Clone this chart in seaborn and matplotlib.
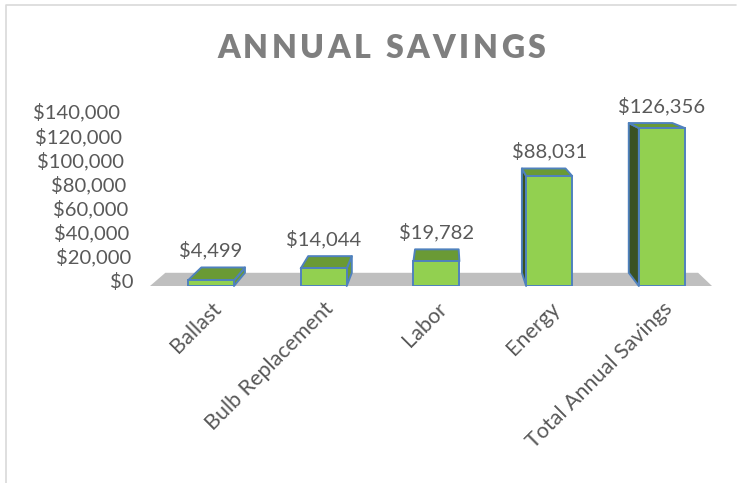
import matplotlib
matplotlib.use("Agg")
import matplotlib.pyplot as plt
import matplotlib.transforms as mtransforms
import seaborn as sns
import pandas as pd
import numpy as np
from matplotlib.patches import Polygon
from matplotlib.lines import Line2D

# ---- data ----
categories = ["Ballast", "Bulb Replacement", "Labor", "Energy", "Total Annual Savings"]
savings = [4499, 14044, 19782, 88031, 126356]
y_ticks = [0, 20000, 40000, 60000, 80000, 100000, 120000, 140000]
y_tick_labels = ["$0", "$20,000", "$40,000", "$60,000", "$80,000", "$100,000", "$120,000", "$140,000"]
title = "ANNUAL SAVINGS"

# ---- style ----
FRONT = "#92D050"
TOP = "#6A9A35"
SIDE_R = "#6A9A35"
SIDE_L = "#3A5222"
EDGE = "#4F81BD"
FLOOR = "#BFBFBF"
TXT = "#595959"
TITLE_C = "#7F7F7F"
LBL = 14.6

sns.set_theme(style="white")
plt.rcParams["font.family"] = ["Lato", "DejaVu Sans"]

W, H = 742, 483
fig = plt.figure(figsize=(W / 100, H / 100), dpi=100)
fig.patch.set_facecolor("white")

ax_left, ax_right, ax_bot, ax_top = 150, 712, 286, 111  # pixel positions (from top)
ax = fig.add_axes([ax_left / W, 1 - ax_bot / H, (ax_right - ax_left) / W, (ax_bot - ax_top) / H])
ax.set_facecolor("none")

df = pd.DataFrame({"category": categories, "savings": savings})
sns.barplot(data=df, x="category", y="savings", ax=ax, color=FRONT, saturation=1,
            width=0.408, edgecolor=EDGE, linewidth=1.4, zorder=4)

ax.set_xlim(-0.541, 4.445)
ax.set_ylim(0, 140000)
for s in ax.spines.values():
    s.set_visible(False)
ax.set_xlabel("")
ax.set_ylabel("")
ax.set_yticks([])
ax.tick_params(axis="x", length=0, pad=9, labelsize=15.5, colors=TXT)
ax.set_xticks(range(len(categories)))
ax.set_xticklabels(categories, rotation=45, ha="right", va="top", rotation_mode="anchor")

# back-wall value axis (twin) for the tick labels
ax2 = ax.twinx()
ax2.set_facecolor("none")
ax2.yaxis.tick_left()
zero_px = 280.0
scale = 140000 / (zero_px - ax_top)
ax2.set_ylim(-(ax_bot - zero_px) * scale, 140000)
ax2.set_yticks(y_ticks)
ax2.set_yticklabels(y_tick_labels)
ax2.tick_params(axis="y", length=0, pad=12, labelsize=LBL, colors=TXT)
for s in ax2.spines.values():
    s.set_visible(False)
ax2.grid(False)
# perspective slant of the back-wall labels
for v, lab in zip(y_ticks, ax2.get_yticklabels()):
    shift = -13.0 * v / 140000 / 100.0
    lab.set_transform(lab.get_transform() +
                      mtransforms.ScaledTranslation(shift, 0, fig.dpi_scale_trans))

# ---- pseudo 3D perspective ----
V = np.array([445.0, H - 32.0])  # vanishing point in display coords
K = 0.052
to_disp = ax.transData.transform
to_data = ax.transData.inverted().transform

def back(p):
    return p + K * (V - p)

def poly(pts_disp, color, z):
    pts = to_data(np.array(pts_disp))
    ax.add_patch(Polygon(pts, closed=True, facecolor=color, edgecolor=EDGE,
                         linewidth=1.4, zorder=z, clip_on=False, joinstyle="round"))

# floor
fl = to_disp(np.array([[ax.get_xlim()[0], 0], [ax.get_xlim()[1], 0]]))
fl_pts = [fl[0], fl[1], back(fl[1]), back(fl[0])]
ax.add_patch(Polygon(to_data(np.array(fl_pts)), closed=True, facecolor=FLOOR,
                     edgecolor="none", zorder=1, clip_on=False))

for bar, val in zip(ax.patches[:len(savings)], savings):
    x0 = bar.get_x()
    x1 = x0 + bar.get_width()
    h = bar.get_height()
    bl, br, tr, tl = to_disp(np.array([[x0, 0], [x1, 0], [x1, h], [x0, h]]))
    # top face
    poly([tl, tr, back(tr), back(tl)], TOP, 3)
    # side face
    if V[0] > br[0]:
        poly([br, tr, back(tr), back(br)], SIDE_R, 2)
    elif V[0] < bl[0]:
        poly([bl, tl, back(tl), back(bl)], SIDE_L, 2)
    # value label
    top_back_y = back(tl)[1]
    cx = (tl[0] + tr[0]) / 2
    lx, ly = to_data(np.array([[cx, top_back_y + 17]]))[0]
    ax.text(lx, ly, f"${val:,}", ha="center", va="center", fontsize=LBL, color=TXT,
            zorder=6, clip_on=False)

# ---- title with letter spacing ----
fig.canvas.draw()
renderer = fig.canvas.get_renderer()
tsize = 23
widths = []
for ch in title:
    if ch == " ":
        widths.append(None)
        continue
    t = fig.text(0, 0, ch, fontsize=tsize, fontweight="heavy")
    widths.append(t.get_window_extent(renderer).width)
    t.remove()
space_w = tsize * 100 / 72 * 0.26
target_w = 328
n = len(title)
glyph_total = sum(w for w in widths if w is not None) + space_w
track = (target_w - glyph_total) / (n - 1)
x = 381 - target_w / 2
baseline = H - 58
for ch, w in zip(title, widths):
    if w is None:
        x += space_w + track
        continue
    fig.text(x / W, baseline / H, ch, fontsize=tsize, fontweight="heavy", color=TITLE_C,
             ha="left", va="baseline")
    x += w + track

# ---- chart border (top and left) ----
fig.add_artist(Line2D([5.5 / W, 5.5 / W, 736 / W], [0, 1 - 4.5 / H, 1 - 4.5 / H],
                      transform=fig.transFigure, color="#D9D9D9", linewidth=1.2))

fig.savefig("out.png", dpi=100, facecolor="white")
